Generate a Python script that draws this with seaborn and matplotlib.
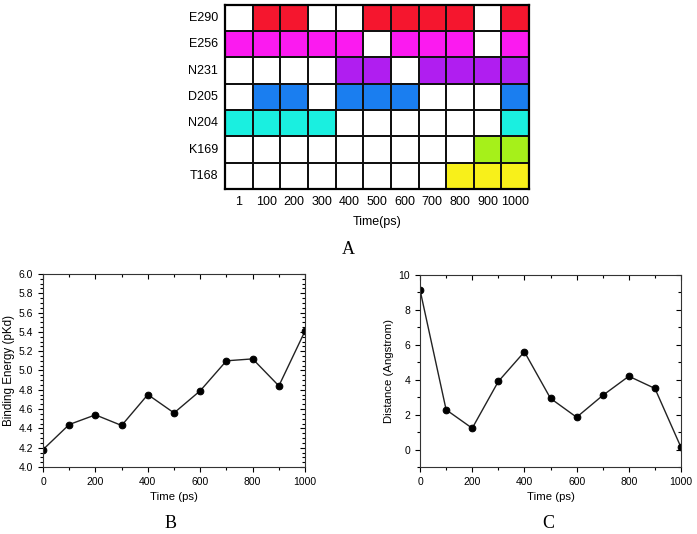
import numpy as np
import pandas as pd
import seaborn as sns
import matplotlib.pyplot as plt
from matplotlib.colors import ListedColormap
from matplotlib.ticker import MultipleLocator

# heatmap data (A)
residues = ["E290", "E256", "N231", "D205", "N204", "K169", "T168"]
time_labels = ["1", "100", "200", "300", "400", "500", "600", "700", "800", "900", "1000"]
E290 = [0, 1, 1, 0, 0, 1, 1, 1, 1, 0, 1]
E256 = [1, 1, 1, 1, 1, 0, 1, 1, 1, 0, 1]
N231 = [0, 0, 0, 0, 1, 1, 0, 1, 1, 1, 1]
D205 = [0, 1, 1, 0, 1, 1, 1, 0, 0, 0, 1]
N204 = [1, 1, 1, 1, 0, 0, 0, 0, 0, 0, 1]
K169 = [0, 0, 0, 0, 0, 0, 0, 0, 0, 1, 1]
T168 = [0, 0, 0, 0, 0, 0, 0, 0, 1, 1, 1]
row_colors = ["#f5162e", "#fb1af0", "#b01ef0", "#1a7ef0", "#1aefe0", "#a6f01a", "#f8f01a"]

# line data (B, C)
time_ps = [0, 100, 200, 300, 400, 500, 600, 700, 800, 900, 1000]
binding_energy = [4.18, 4.44, 4.54, 4.43, 4.75, 4.56, 4.79, 5.10, 5.12, 4.84, 5.41]
distance = [9.15, 2.28, 1.22, 3.90, 5.60, 2.93, 1.85, 3.10, 4.20, 3.50, 0.12]

plt.rcParams['font.family'] = ['Liberation Sans', 'DejaVu Sans']

fig = plt.figure(figsize=(6.97, 5.34), dpi=100)

# ---- A: contact heatmap, one colour per residue
rows = [E290, E256, N231, D205, N204, K169, T168]
mat = np.array([[(i + 1) * v for v in r] for i, r in enumerate(rows)])
df = pd.DataFrame(mat, index=residues, columns=time_labels)
cmap = ListedColormap(["white"] + row_colors)

axA = fig.add_axes([0.323, 0.646, 0.436, 0.345])
sns.heatmap(df, ax=axA, cmap=cmap, vmin=-0.5, vmax=7.5, cbar=False,
            linewidths=1.3, linecolor="#111111")
for s in axA.spines.values():
    s.set_visible(True)
    s.set_linewidth(1.6)
axA.tick_params(length=0, labelsize=9, pad=5)
axA.set_yticklabels(residues, rotation=0)
axA.set_xticklabels(time_labels, rotation=0)
axA.set_xlabel("Time(ps)", fontsize=9, labelpad=6)
axA.set_ylabel("")
fig.text(0.5, 0.532, "A", ha="center", va="center", fontsize=13,
         family=["Liberation Serif", "DejaVu Serif"])


def style_line_axes(ax):
    ax.tick_params(which="both", direction="out", labelsize=7.5, width=0.8)
    ax.tick_params(which="major", length=3.5)
    ax.tick_params(which="minor", length=2)
    for s in ax.spines.values():
        s.set_linewidth(0.8)
        s.set_color("#333333")
    sec = ax.secondary_yaxis("right")
    sec.tick_params(which="both", direction="in", labelright=False, width=0.8)
    sec.tick_params(which="minor", length=2)
    sec.yaxis.set_major_locator(ax.yaxis.get_major_locator())
    sec.yaxis.set_minor_locator(ax.yaxis.get_minor_locator())
    sec.spines["right"].set_visible(False)
    secx = ax.secondary_xaxis("top")
    secx.tick_params(which="both", direction="in", labeltop=False, width=0.8)
    secx.xaxis.set_major_locator(ax.xaxis.get_major_locator())
    secx.xaxis.set_minor_locator(ax.xaxis.get_minor_locator())
    secx.spines["top"].set_visible(False)


# ---- B: binding energy
axB = fig.add_axes([0.0617, 0.1255, 0.376, 0.3615])
sns.lineplot(x=time_ps, y=binding_energy, ax=axB, color="#222222", lw=1,
             marker="o", markersize=4.8, markeredgecolor="black",
             markerfacecolor="black")
axB.set_xlim(0, 1000)
axB.set_ylim(4.0, 6.0)
axB.xaxis.set_major_locator(MultipleLocator(200))
axB.xaxis.set_minor_locator(MultipleLocator(100))
axB.yaxis.set_major_locator(MultipleLocator(0.2))
axB.yaxis.set_minor_locator(MultipleLocator(0.05))
axB.yaxis.set_major_formatter(plt.FormatStrFormatter("%.1f"))
axB.set_xlabel("Time (ps)", fontsize=8.2, labelpad=4)
axB.set_ylabel("Binding Energy (pKd)", fontsize=8.4, labelpad=3)
style_line_axes(axB)
fig.text(0.245, 0.02, "B", ha="center", va="center", fontsize=13,
         family=["Liberation Serif", "DejaVu Serif"])

# ---- C: distance
axC = fig.add_axes([0.6026, 0.1255, 0.3745, 0.3595])
sns.lineplot(x=time_ps, y=distance, ax=axC, color="#222222", lw=1,
             marker="o", markersize=4.8, markeredgecolor="black",
             markerfacecolor="black")
axC.set_xlim(0, 1000)
axC.set_ylim(-1, 10)
axC.xaxis.set_major_locator(MultipleLocator(200))
axC.xaxis.set_minor_locator(MultipleLocator(100))
axC.yaxis.set_major_locator(MultipleLocator(2))
axC.yaxis.set_minor_locator(MultipleLocator(1))
axC.set_xlabel("Time (ps)", fontsize=8.2, labelpad=4)
axC.set_ylabel("Distance (Angstrom)", fontsize=8.2, labelpad=3)
style_line_axes(axC)
fig.text(0.787, 0.02, "C", ha="center", va="center", fontsize=13,
         family=["Liberation Serif", "DejaVu Serif"])

fig.savefig("out.png", dpi=100)
